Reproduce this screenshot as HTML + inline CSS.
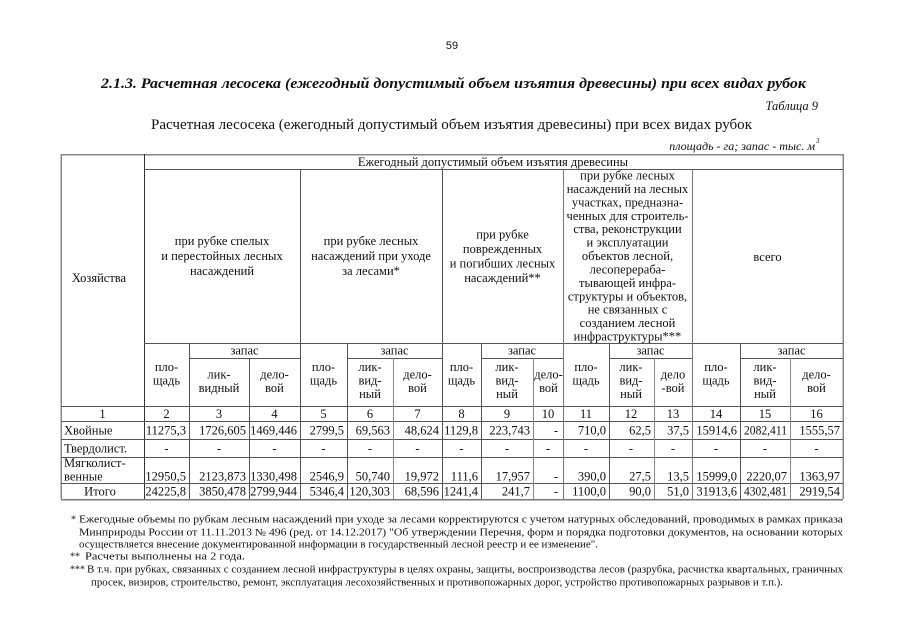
<!DOCTYPE html>
<html>
<head>
<meta charset="utf-8">
<style>
  html,body{margin:0;padding:0;background:#fff;}
  svg{display:block;}
  text{font-family:"Liberation Serif","DejaVu Serif",serif;fill:#111;}
  .t{font-size:12.5px;}
  .m{text-anchor:middle;}
  .e{text-anchor:end;}
  .fn{font-size:10px;}
</style>
</head>
<body>
<svg width="905" height="640" viewBox="0 0 905 640" xmlns="http://www.w3.org/2000/svg">
  <rect width="905" height="640" fill="#fff"/>

  <text x="452" y="49" style="font-family:'Liberation Sans',sans-serif;font-size:11px" text-anchor="middle">59</text>

  <text x="101" y="88" style="font-size:15px;font-weight:bold;font-style:italic" textLength="705" lengthAdjust="spacingAndGlyphs">2.1.3. Расчетная лесосека (ежегодный допустимый объем изъятия древесины) при всех видах рубок</text>

  <text x="818" y="110" style="font-size:12.5px;font-style:italic" text-anchor="end">Таблица 9</text>

  <text x="151" y="129" style="font-size:15px" textLength="601" lengthAdjust="spacingAndGlyphs">Расчетная лесосека (ежегодный допустимый объем изъятия древесины) при всех видах рубок</text>

  <text x="815" y="150" style="font-size:12px;font-style:italic" text-anchor="end">площадь - га; запас - тыс. м</text>
  <text x="816" y="143" style="font-size:7px;font-style:italic">3</text>

  <g stroke="#555" stroke-width="1" shape-rendering="crispEdges" fill="none">
    <line x1="61" y1="154.5" x2="843" y2="154.5" stroke="#888" stroke-width="1.5"/>
    <line x1="61" y1="154" x2="61" y2="499" stroke="#888" stroke-width="1.5"/>
    <line x1="843" y1="154" x2="843" y2="499" stroke="#888" stroke-width="1.5"/>
    <line x1="61" y1="499.5" x2="843" y2="499.5" stroke="#777" stroke-width="1.5"/>
    <line x1="144.5" y1="154" x2="144.5" y2="499" stroke="#333"/>
    <line x1="144" y1="169.5" x2="843" y2="169.5"/>
    <line x1="144" y1="343.5" x2="843" y2="343.5"/>
    <line x1="189" y1="358.5" x2="300" y2="358.5"/>
    <line x1="347" y1="358.5" x2="442" y2="358.5"/>
    <line x1="481" y1="358.5" x2="563" y2="358.5"/>
    <line x1="609" y1="358.5" x2="692" y2="358.5"/>
    <line x1="740" y1="358.5" x2="843" y2="358.5"/>
    <line x1="61" y1="406.5" x2="843" y2="406.5"/>
    <line x1="61" y1="421.5" x2="843" y2="421.5"/>
    <line x1="61" y1="439.5" x2="843" y2="439.5"/>
    <line x1="61" y1="457.5" x2="843" y2="457.5"/>
    <line x1="61" y1="483.5" x2="843" y2="483.5"/>
    <line x1="300.5" y1="169" x2="300.5" y2="499"/>
    <line x1="442.5" y1="169" x2="442.5" y2="499"/>
    <line x1="563.5" y1="169" x2="563.5" y2="499" stroke="#777"/>
    <line x1="692.5" y1="169" x2="692.5" y2="499" stroke="#777"/>
    <line x1="189.5" y1="343" x2="189.5" y2="499"/>
    <line x1="347.5" y1="343" x2="347.5" y2="499"/>
    <line x1="481.5" y1="343" x2="481.5" y2="499"/>
    <line x1="609.5" y1="343" x2="609.5" y2="499"/>
    <line x1="740.5" y1="343" x2="740.5" y2="499"/>
    <line x1="249.5" y1="358" x2="249.5" y2="499"/>
    <line x1="393.5" y1="358" x2="393.5" y2="499" stroke="#888"/>
    <line x1="533.5" y1="358" x2="533.5" y2="499" stroke="#888"/>
    <line x1="654.5" y1="358" x2="654.5" y2="499" stroke="#888"/>
    <line x1="790.5" y1="358" x2="790.5" y2="499" stroke="#888"/>
  </g>

  <g class="t">
    <text class="t m" x="493" y="166">Ежегодный допустимый объем изъятия древесины</text>
    <text class="t m" x="99" y="282">Хозяйства</text>

    <text class="t m" x="222" y="245">при рубке спелых</text>
    <text class="t m" x="222" y="260">и перестойных лесных</text>
    <text class="t m" x="222" y="275">насаждений</text>

    <text class="t m" x="371" y="245">при рубке лесных</text>
    <text class="t m" x="371" y="260">насаждений при уходе</text>
    <text class="t m" x="371" y="275">за лесами*</text>

    <text class="t m" x="502.5" y="238.5">при рубке</text>
    <text class="t m" x="502.5" y="253">поврежденных</text>
    <text class="t m" x="502.5" y="267.5">и погибших лесных</text>
    <text class="t m" x="502.5" y="282">насаждений**</text>

    <text class="t m" x="627.5" y="179.5">при рубке лесных</text>
    <text class="t m" x="627.5" y="192.9">насаждений на лесных</text>
    <text class="t m" x="627.5" y="206.3">участках, предназна-</text>
    <text class="t m" x="627.5" y="219.8">ченных для строитель-</text>
    <text class="t m" x="627.5" y="233.2">ства, реконструкции</text>
    <text class="t m" x="627.5" y="246.6">и эксплуатации</text>
    <text class="t m" x="627.5" y="260">объектов лесной,</text>
    <text class="t m" x="627.5" y="273.4">лесоперераба-</text>
    <text class="t m" x="627.5" y="286.9">тывающей инфра-</text>
    <text class="t m" x="627.5" y="300.3">структуры и объектов,</text>
    <text class="t m" x="627.5" y="313.7">не связанных с</text>
    <text class="t m" x="627.5" y="327.1">созданием лесной</text>
    <text class="t m" x="627.5" y="340.5">инфраструктуры***</text>

    <text class="t m" x="767.5" y="261">всего</text>

    <text class="t m" x="244.5" y="354.5">запас</text>
    <text class="t m" x="394.5" y="354.5">запас</text>
    <text class="t m" x="522" y="354.5">запас</text>
    <text class="t m" x="650.5" y="354.5">запас</text>
    <text class="t m" x="791.5" y="354.5">запас</text>

    <text class="t m" x="166.5" y="371">пло-</text><text class="t m" x="166.5" y="384.5">щадь</text>
    <text class="t m" x="323.5" y="371">пло-</text><text class="t m" x="323.5" y="384.5">щадь</text>
    <text class="t m" x="461.5" y="371">пло-</text><text class="t m" x="461.5" y="384.5">щадь</text>
    <text class="t m" x="586" y="371">пло-</text><text class="t m" x="586" y="384.5">щадь</text>
    <text class="t m" x="716" y="371">пло-</text><text class="t m" x="716" y="384.5">щадь</text>

    <text class="t m" x="219" y="378.5">лик-</text><text class="t m" x="219" y="392">видный</text>
    <text class="t m" x="274.5" y="378.5">дело-</text><text class="t m" x="274.5" y="392">вой</text>
    <text class="t m" x="370" y="371">лик-</text><text class="t m" x="370" y="384.5">вид-</text><text class="t m" x="370" y="398">ный</text>
    <text class="t m" x="417.5" y="378.5">дело-</text><text class="t m" x="417.5" y="392">вой</text>
    <text class="t m" x="507" y="371">лик-</text><text class="t m" x="507" y="384.5">вид-</text><text class="t m" x="507" y="398">ный</text>
    <text class="t m" x="548.5" y="378.5">дело-</text><text class="t m" x="548.5" y="392">вой</text>
    <text class="t m" x="631" y="371">лик-</text><text class="t m" x="631" y="384.5">вид-</text><text class="t m" x="631" y="398">ный</text>
    <text class="t m" x="673" y="378.5">дело</text><text class="t m" x="673" y="392">-вой</text>
    <text class="t m" x="765" y="371">лик-</text><text class="t m" x="765" y="384.5">вид-</text><text class="t m" x="765" y="398">ный</text>
    <text class="t m" x="816.5" y="378.5">дело-</text><text class="t m" x="816.5" y="392">вой</text>

    <text class="t m" x="102.5" y="418">1</text>
    <text class="t m" x="166.5" y="418">2</text>
    <text class="t m" x="219" y="418">3</text>
    <text class="t m" x="274.5" y="418">4</text>
    <text class="t m" x="323.5" y="418">5</text>
    <text class="t m" x="370" y="418">6</text>
    <text class="t m" x="417.5" y="418">7</text>
    <text class="t m" x="461.5" y="418">8</text>
    <text class="t m" x="507" y="418">9</text>
    <text class="t m" x="548" y="418">10</text>
    <text class="t m" x="586" y="418">11</text>
    <text class="t m" x="631" y="418">12</text>
    <text class="t m" x="673" y="418">13</text>
    <text class="t m" x="716" y="418">14</text>
    <text class="t m" x="765" y="418">15</text>
    <text class="t m" x="816.5" y="418">16</text>

    <text class="t" x="64" y="434.5">Хвойные</text>
    <text class="t e" x="186" y="434.5">11275,3</text>
    <text class="t e" x="246" y="434.5">1726,605</text>
    <text class="t e" x="297" y="434.5">1469,446</text>
    <text class="t e" x="344" y="434.5">2799,5</text>
    <text class="t e" x="390" y="434.5">69,563</text>
    <text class="t e" x="439" y="434.5">48,624</text>
    <text class="t e" x="478" y="434.5">1129,8</text>
    <text class="t e" x="530" y="434.5">223,743</text>
    <text class="t e" x="558" y="434.5">-</text>
    <text class="t e" x="606" y="434.5">710,0</text>
    <text class="t e" x="651" y="434.5">62,5</text>
    <text class="t e" x="689" y="434.5">37,5</text>
    <text class="t e" x="737" y="434.5">15914,6</text>
    <text class="t" x="744" y="434.5" textLength="43" lengthAdjust="spacingAndGlyphs">2082,411</text>
    <text class="t e" x="840" y="434.5">1555,57</text>

    <text class="t" x="64" y="452.5">Твердолист.</text>
    <text class="t m" x="166.5" y="452.5">-</text>
    <text class="t m" x="219" y="452.5">-</text>
    <text class="t m" x="274.5" y="452.5">-</text>
    <text class="t m" x="323.5" y="452.5">-</text>
    <text class="t m" x="370" y="452.5">-</text>
    <text class="t m" x="417.5" y="452.5">-</text>
    <text class="t m" x="461.5" y="452.5">-</text>
    <text class="t m" x="507" y="452.5">-</text>
    <text class="t m" x="548" y="452.5">-</text>
    <text class="t m" x="586" y="452.5">-</text>
    <text class="t m" x="631" y="452.5">-</text>
    <text class="t m" x="673" y="452.5">-</text>
    <text class="t m" x="716" y="452.5">-</text>
    <text class="t m" x="765" y="452.5">-</text>
    <text class="t m" x="816.5" y="452.5">-</text>

    <text class="t" x="64" y="467">Мягколист-</text>
    <text class="t" x="64" y="480.5">венные</text>
    <text class="t e" x="186" y="480.5">12950,5</text>
    <text class="t e" x="246" y="480.5">2123,873</text>
    <text class="t e" x="297" y="480.5">1330,498</text>
    <text class="t e" x="344" y="480.5">2546,9</text>
    <text class="t e" x="390" y="480.5">50,740</text>
    <text class="t e" x="439" y="480.5">19,972</text>
    <text class="t e" x="478" y="480.5">111,6</text>
    <text class="t e" x="530" y="480.5">17,957</text>
    <text class="t e" x="558" y="480.5">-</text>
    <text class="t e" x="606" y="480.5">390,0</text>
    <text class="t e" x="651" y="480.5">27,5</text>
    <text class="t e" x="689" y="480.5">13,5</text>
    <text class="t e" x="737" y="480.5">15999,0</text>
    <text class="t e" x="787" y="480.5">2220,07</text>
    <text class="t e" x="840" y="480.5">1363,97</text>

    <text class="t m" x="100" y="495.5">Итого</text>
    <text class="t e" x="186" y="495.5">24225,8</text>
    <text class="t e" x="246" y="495.5">3850,478</text>
    <text class="t e" x="297" y="495.5">2799,944</text>
    <text class="t e" x="344" y="495.5">5346,4</text>
    <text class="t e" x="390" y="495.5">120,303</text>
    <text class="t e" x="439" y="495.5">68,596</text>
    <text class="t e" x="478" y="495.5">1241,4</text>
    <text class="t e" x="530" y="495.5">241,7</text>
    <text class="t e" x="558" y="495.5">-</text>
    <text class="t e" x="606" y="495.5">1100,0</text>
    <text class="t e" x="651" y="495.5">90,0</text>
    <text class="t e" x="689" y="495.5">51,0</text>
    <text class="t e" x="737" y="495.5">31913,6</text>
    <text class="t" x="744" y="495.5" textLength="43" lengthAdjust="spacingAndGlyphs">4302,481</text>
    <text class="t e" x="840" y="495.5">2919,54</text>
  </g>

  <g class="fn">
    <text class="fn" x="71" y="522.5">*</text>
    <text class="fn" x="79" y="522.5" textLength="764" lengthAdjust="spacingAndGlyphs">Ежегодные объемы по рубкам лесным насаждений при уходе за лесами корректируются с учетом натурных обследований, проводимых в рамках приказа</text>
    <text class="fn" x="79" y="535.5" textLength="764" lengthAdjust="spacingAndGlyphs">Минприроды России от 11.11.2013 № 496 (ред. от 14.12.2017) "Об утверждении Перечня, форм и порядка подготовки документов, на основании которых</text>
    <text class="fn" x="79" y="547.5" textLength="519" lengthAdjust="spacingAndGlyphs">осуществляется внесение документированной информации в государственный лесной реестр и ее изменение".</text>
    <text class="fn" x="70" y="559.5">**</text>
    <text class="fn" x="85" y="559.5" textLength="160" lengthAdjust="spacingAndGlyphs">Расчеты выполнены на 2 года.</text>
    <text class="fn" x="70" y="572.5">***</text>
    <text class="fn" x="87" y="572.5" textLength="756" lengthAdjust="spacingAndGlyphs">В т.ч. при рубках, связанных с созданием лесной инфраструктуры в целях охраны, защиты, воспроизводства лесов (разрубка, расчистка квартальных, граничных</text>
    <text class="fn" x="91" y="585.5" textLength="692" lengthAdjust="spacingAndGlyphs">просек, визиров, строительство, ремонт, эксплуатация лесохозяйственных и противопожарных дорог, устройство противопожарных разрывов и т.п.).</text>
  </g>
</svg>
</body>
</html>
